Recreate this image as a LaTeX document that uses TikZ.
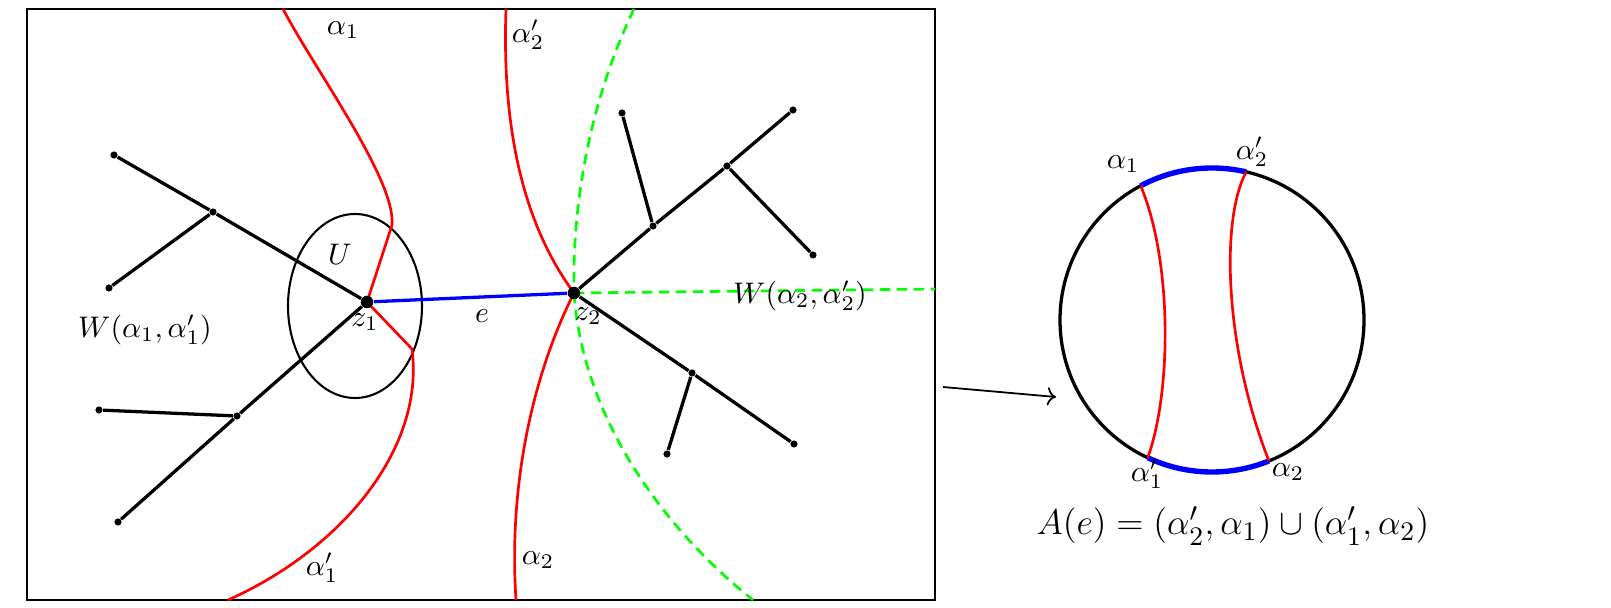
\documentclass[tikz,border=0pt]{standalone}
\usepackage{amsmath,amssymb}
\usepackage[dvipsnames]{xcolor}
\usepackage{tikz}
\usetikzlibrary{arrows.meta,calc}

\tikzset{
 vtx/.style={circle,fill=black,inner sep=0pt,minimum size=2.4pt},
 bigvtx/.style={circle,fill=black,inner sep=0pt,minimum size=4.2pt},
 branch/.style={line width=1.1pt},
 geod/.style={red,line width=0.9pt},
 hgeod/.style={green,line width=0.9pt,dash pattern=on 3.5pt off 2.2pt},
}

\begin{document}
\begin{tikzpicture}[x=0.0118cm,y=-0.0118cm,>=To]
 \useasboundingbox (0,0) rectangle (1611,608);
 % ---- frame
 \draw[line width=0.7pt] (27,9) rectangle (935,600);
 % ---- neighbourhood U
 \draw[line width=0.7pt] (355,306) ellipse (67 and 92);
 % ---- geodesics
 \coordinate (p1) at (367,302);
 \coordinate (p2) at (574,293);
 \draw[geod] (283,9) .. controls (315,70) and (396,180) .. (392,225) -- (p1) -- (412,349)
  .. controls (425,450) and (340,550) .. (228,600);
 \draw[geod] (506,9) .. controls (502,120) and (520,220) .. (p2);
 \draw[geod] (p2) .. controls (535,370) and (508,480) .. (516,600);
 \draw[hgeod] (634,9) .. controls (595,90) and (572,190) .. (p2);
 \draw[hgeod] (p2) .. controls (583,420) and (665,530) .. (753,600);
 \draw[hgeod] (p2) -- (935,289);
 % ---- vertices
 \node[bigvtx] (z1) at (p1) {};
 \node[bigvtx] (z2) at (p2) {};
 \node[vtx] (l1) at (114,155) {};
 \node[vtx] (l2) at (213,212) {};
 \node[vtx] (l3) at (109,288) {};
 \node[vtx] (l4) at (237,416) {};
 \node[vtx] (l5) at (99,410) {};
 \node[vtx] (l6) at (118,522) {};
 \node[vtx] (r1) at (622,113) {};
 \node[vtx] (r2) at (653,226) {};
 \node[vtx] (r3) at (727,166) {};
 \node[vtx] (r4) at (793,110) {};
 \node[vtx] (r5) at (813,255) {};
 \node[vtx] (r6) at (692,373) {};
 \node[vtx] (r7) at (667,454) {};
 \node[vtx] (r8) at (794,444) {};
 % ---- tree
 \draw[branch] (l1) -- (l2) -- (z1) (l3) -- (l2);
 \draw[branch] (l6) -- (l4) -- (z1) (l5) -- (l4);
 \draw[branch] (z2) -- (r2) -- (r3) -- (r4) (r1) -- (r2) (r3) -- (r5);
 \draw[branch] (z2) -- (r6) -- (r8) (r6) -- (r7);
 \draw[blue,line width=1.1pt] (z1) -- (z2);
 % ---- labels
 \node at (343,30) {$\alpha_1$};
 \node at (528,35) {$\alpha_2'$};
 \node at (322,568) {$\alpha_1'$};
 \node at (538,560) {$\alpha_2$};
 \node at (340,254) {$U$};
 \node at (365,322) {$z_1$};
 \node at (482,316) {$e$};
 \node at (588,316) {$z_2$};
 \node at (145,330) {$W(\alpha_1,\alpha_1')$};
 \node at (800,296) {$W(\alpha_2,\alpha_2')$};
 % ---- boundary circle
 \coordinate (a0) at (943,387);
 \coordinate (a1) at (1056,397);
 \draw[->,line width=0.6pt] (a0) -- (a1);
 \coordinate (c) at (1212,320);
 \coordinate (t1) at ($(c)+(-118:152)$);
 \coordinate (t2) at ($(c)+(-77:152)$);
 \coordinate (b1) at ($(c)+(115:152)$);
 \coordinate (b2) at ($(c)+(68:152)$);
 \draw[line width=1.1pt] (c) circle[radius=152];
 \draw[blue,line width=1.8pt] (t1) arc[start angle=-118,end angle=-77,radius=152];
 \draw[blue,line width=1.8pt] (b2) arc[start angle=68,end angle=115,radius=152];
 \draw[geod] (t1) .. controls (1172,260) and (1172,390) .. (b1);
 \draw[geod] (t2) .. controls (1220,220) and (1225,350) .. (b2);
 \node at (1123,164) {$\alpha_1$};
 \node at (1252,152) {$\alpha_2'$};
 \node at (1147,474) {$\alpha_1'$};
 \node at (1288,472) {$\alpha_2$};
 \node[font=\fontsize{12.4}{15}\selectfont] at (1233,526) {$A(e)=(\alpha_2',\alpha_1)\cup(\alpha_1',\alpha_2)$};
\end{tikzpicture}
\end{document}
